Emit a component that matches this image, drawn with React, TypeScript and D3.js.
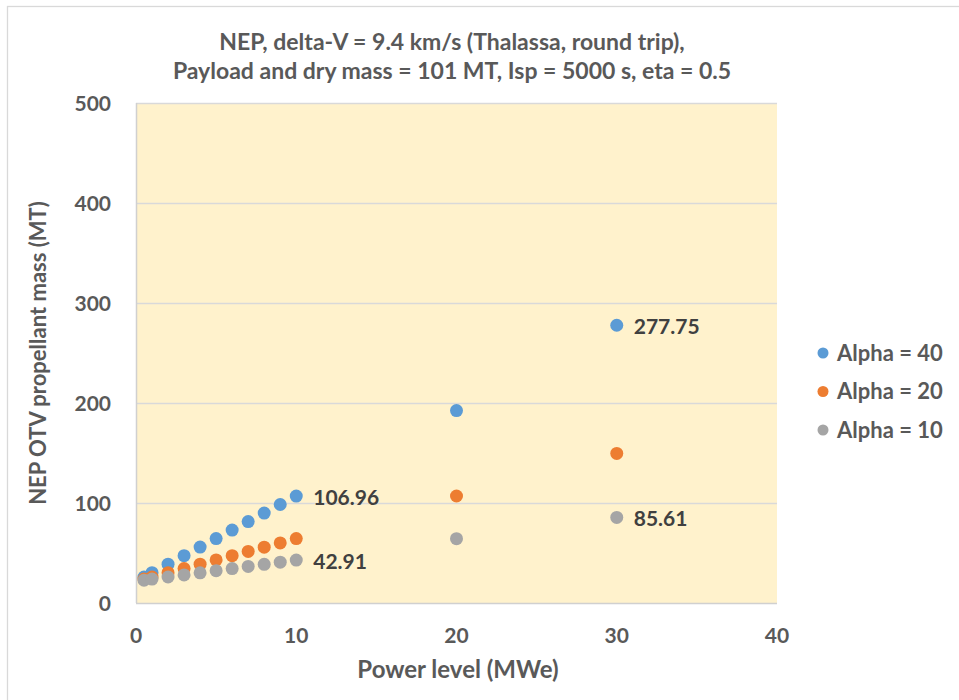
import React, { useEffect, useRef } from "react";
import * as d3 from "d3";

const titleLines = [
  "NEP, delta-V = 9.4 km/s (Thalassa, round trip),",
  "Payload and dry mass = 101 MT, Isp = 5000 s, eta = 0.5",
];
const xTitle = "Power level (MWe)";
const yTitle = "NEP OTV propellant mass (MT)";

const powerLevels = [0.5, 1, 2, 3, 4, 5, 6, 7, 8, 9, 10, 20, 30];
const alpha40 = [26.0, 30.3, 38.8, 47.3, 55.9, 64.4, 72.9, 81.4, 89.9, 98.5, 106.96, 192.4, 277.75];
const alpha20 = [23.9, 26.0, 30.3, 34.5, 38.8, 43.1, 47.3, 51.6, 55.8, 60.1, 64.4, 107.0, 149.6];
const alpha10 = [22.8, 23.9, 26.0, 28.1, 30.2, 32.3, 34.4, 36.6, 38.7, 40.8, 42.91, 64.3, 85.61];

const seriesNames = ["Alpha = 40", "Alpha = 20", "Alpha = 10"];
const seriesValues = [alpha40, alpha20, alpha10];
const seriesColors = ["#5B9BD5", "#ED7D31", "#A5A5A5"];
// labelled points: [series index, point index]
const labelledPoints: [number, number][] = [
  [0, 10],
  [0, 12],
  [2, 10],
  [2, 12],
];

const xTicks = [0, 10, 20, 30, 40];
const yTicks = [0, 100, 200, 300, 400, 500];

const FONT = "Lato, 'Open Sans', sans-serif";

export default function App() {
  const ref = useRef<SVGSVGElement>(null);

  useEffect(() => {
    document.body.style.margin = "0";
    const svg = d3.select(ref.current);
    svg.selectAll("*").remove();

    const W = 959, H = 700;
    const left = 136, right = 777, top = 103, bottom = 603;
    const x = d3.scaleLinear().domain([0, 40]).range([left, right]);
    const y = d3.scaleLinear().domain([0, 500]).range([bottom, top]);

    svg.append("rect").attr("x", 0).attr("y", 0).attr("width", W).attr("height", H).attr("fill", "#fff");
    svg.append("rect").attr("x", 7.5).attr("y", 6.5).attr("width", W + 20).attr("height", H + 20)
      .attr("fill", "none").attr("stroke", "#D9D9D9").attr("stroke-width", 1.3);

    // title
    svg.append("g").selectAll("text").data(titleLines).join("text")
      .attr("x", 452).attr("y", (_, i) => 50 + i * 29)
      .attr("text-anchor", "middle").attr("font-family", FONT).attr("font-weight", 700)
      .attr("font-size", 23).attr("fill", "#595959").text((d) => d);

    // plot area
    svg.append("rect").attr("x", left).attr("y", top).attr("width", right - left).attr("height", bottom - top)
      .attr("fill", "#FFF2CC");

    // gridlines
    svg.append("g").selectAll("line").data(yTicks.filter((t) => t > 0)).join("line")
      .attr("x1", left).attr("x2", right).attr("y1", (d) => y(d) + 0.5).attr("y2", (d) => y(d) + 0.5)
      .attr("stroke", "#D9D9D9").attr("stroke-width", 1.3);

    // axis lines
    svg.append("line").attr("x1", left + 0.5).attr("x2", left + 0.5).attr("y1", top).attr("y2", bottom)
      .attr("stroke", "#D0D0D0").attr("stroke-width", 1.5);
    svg.append("line").attr("x1", left).attr("x2", right).attr("y1", bottom + 0.5).attr("y2", bottom + 0.5)
      .attr("stroke", "#D0D0D0").attr("stroke-width", 1.5);

    // y tick labels
    svg.append("g").selectAll("text").data(yTicks).join("text")
      .attr("x", 111).attr("y", (d) => y(d)).attr("dy", "0.36em").attr("text-anchor", "end")
      .attr("font-family", FONT).attr("font-weight", 700).attr("font-size", 21).attr("fill", "#595959")
      .text((d) => d);

    // x tick labels
    svg.append("g").selectAll("text").data(xTicks).join("text")
      .attr("x", (d) => x(d)).attr("y", 635).attr("dy", "0.36em").attr("text-anchor", "middle")
      .attr("font-family", FONT).attr("font-weight", 700).attr("font-size", 21).attr("fill", "#595959")
      .text((d) => d);

    // axis titles
    svg.append("text").attr("x", 458).attr("y", 669).attr("dy", "0.36em").attr("text-anchor", "middle")
      .attr("font-family", FONT).attr("font-weight", 700).attr("font-size", 24).attr("fill", "#595959")
      .text(xTitle);
    svg.append("text").attr("transform", "translate(38,353) rotate(-90)").attr("dy", "0.36em")
      .attr("text-anchor", "middle").attr("font-family", FONT).attr("font-weight", 700)
      .attr("font-size", 22).attr("fill", "#595959").text(yTitle);

    // points
    seriesValues.forEach((vals, si) => {
      svg.append("g").selectAll("circle").data(vals).join("circle")
        .attr("cx", (_, i) => x(powerLevels[i])).attr("cy", (d) => y(d)).attr("r", 6.5)
        .attr("fill", seriesColors[si]);
    });

    // data labels
    svg.append("g").selectAll("text").data(labelledPoints).join("text")
      .attr("x", ([, pi]) => x(powerLevels[pi]) + 17)
      .attr("y", ([si, pi]) => y(seriesValues[si][pi]) + 1)
      .attr("dy", "0.36em").attr("font-family", FONT).attr("font-weight", 700).attr("font-size", 21)
      .attr("fill", "#404040").text(([si, pi]) => seriesValues[si][pi].toFixed(2));

    // legend
    const lg = svg.append("g").selectAll("g").data(seriesNames).join("g")
      .attr("transform", (_, i) => `translate(823,${353 + i * 38.5})`);
    lg.append("circle").attr("r", 5.5).attr("fill", (_, i) => seriesColors[i]);
    lg.append("text").attr("x", 14).attr("dy", "0.36em").attr("font-family", FONT).attr("font-weight", 700)
      .attr("font-size", 22).attr("fill", "#595959").text((d) => d);
  }, []);

  return (
    <div style={{ position: "absolute", left: 0, top: 0 }}>
      <svg ref={ref} width={959} height={700} style={{ display: "block" }} />
    </div>
  );
}
